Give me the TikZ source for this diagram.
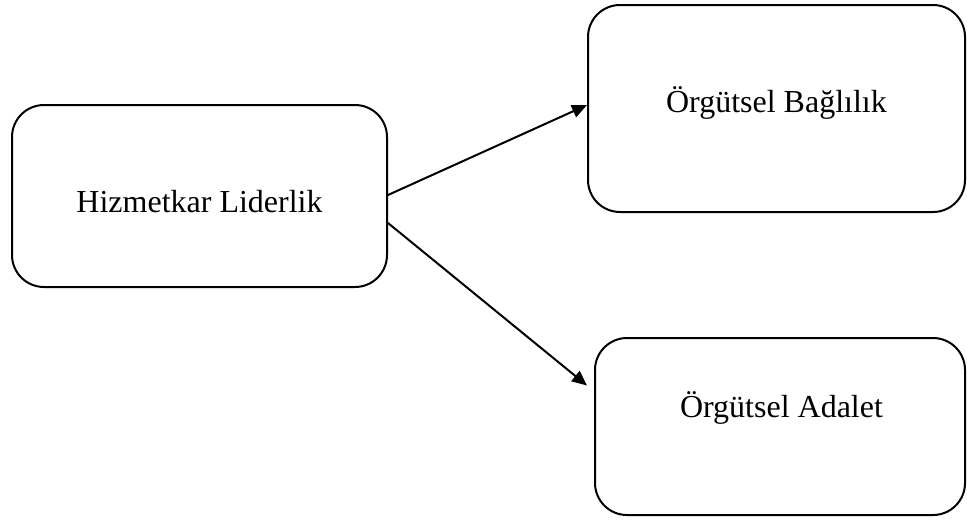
\documentclass[tikz,border=0pt]{standalone}
\usepackage{fontspec}
\setmainfont{Liberation Serif}
\usetikzlibrary{arrows.meta, positioning, calc}

\begin{document}
\begin{tikzpicture}[
        x=0.5pt, y=-0.5pt,
        box/.style={rectangle, draw=black, line width=1pt, rounded corners=16pt, fill=white},
        lbl/.style={anchor=base, inner sep=0pt, font=\fontsize{16}{19}\selectfont},
        arrow/.style={line width=1pt, -{Triangle[length=7.5pt, width=6.5pt]}}
        ]
        \useasboundingbox (0,0) rectangle (967,520);

        \node[box, minimum width=187.5pt, minimum height=91pt] (lead) at (199.5,196) {};
        \node[box, minimum width=188.5pt, minimum height=103.5pt] (commit) at (776.5,108.5) {};
        \node[box, minimum width=185pt, minimum height=88.5pt] (justice) at (780,426.5) {};

        \node[lbl] (leadtext) at ([yshift=-8pt]lead.center) {Hizmetkar Liderlik};
        \node[lbl] (committext) at ([yshift=-1.75pt]commit.center) {Örgütsel Bağlılık};
        \node[lbl] (justicetext) at ([xshift=0.75pt, yshift=4.75pt]justice.center) {Örgütsel Adalet};

        \coordinate (tip) at ([xshift=-3.5pt, yshift=20.5pt]justice.west);

        \draw[arrow] ([yshift=0.5pt]lead.east) -- ([yshift=1.75pt]commit.west);
        \draw[arrow] ([yshift=-13.5pt]lead.east) -- (tip);
    \end{tikzpicture}
\end{document}
